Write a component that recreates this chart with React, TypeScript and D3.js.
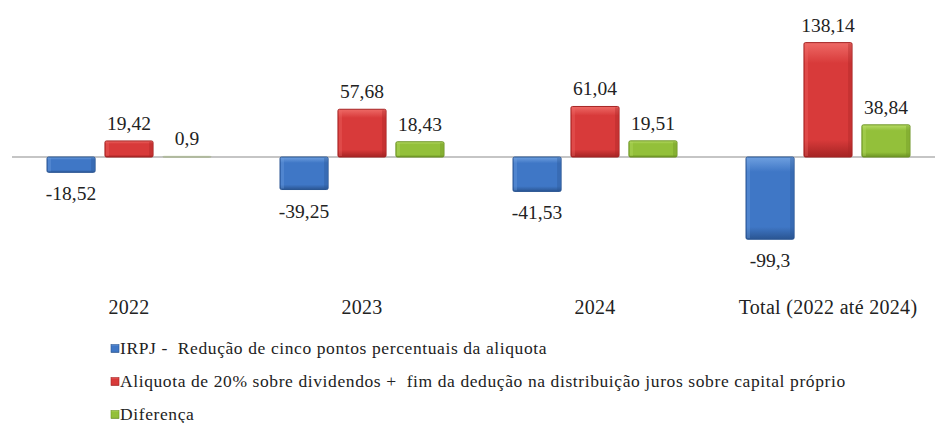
import React, { useEffect, useRef } from "react";
import * as d3 from "d3";

const categories = ["2022", "2023", "2024", "Total (2022 até 2024)"];
const irpj = [-18.52, -39.25, -41.53, -99.3];
const aliquota = [19.42, 57.68, 61.04, 138.14];
const diferenca = [0.9, 18.43, 19.51, 38.84];

const seriesNames = [
  "IRPJ -  Redução de cinco pontos percentuais da aliquota",
  "Aliquota de 20% sobre dividendos +  fim da dedução na distribuição juros sobre capital próprio",
  "Diferença",
];
const colors = [
  { base: "#3f77c6", light: "#6fa0e0", dark: "#2a5592" },
  { base: "#d83a3a", light: "#ee6a66", dark: "#a52424" },
  { base: "#93c03a", light: "#b8dc66", dark: "#6c9324" },
];

const fmt = (v: number) => String(v).replace(".", ",");

export default function App() {
  const ref = useRef<SVGSVGElement>(null);

  useEffect(() => {
    const W = 935,
      H = 423;
    const svg = d3.select(ref.current);
    svg.selectAll("*").remove();
    svg.attr("width", W).attr("height", H);

    const font = "Liberation Serif, DejaVu Serif, serif";

    const defs = svg.append("defs");
    colors.forEach((c, i) => {
      const g = defs
        .append("linearGradient")
        .attr("id", "grad" + i)
        .attr("x1", 0)
        .attr("y1", 0)
        .attr("x2", 0)
        .attr("y2", 1);
      g.append("stop").attr("offset", "0%").attr("stop-color", c.light);
      g.append("stop").attr("offset", "18%").attr("stop-color", c.base);
      g.append("stop").attr("offset", "85%").attr("stop-color", c.base);
      g.append("stop").attr("offset", "100%").attr("stop-color", c.dark);
    });

    const x = d3
      .scaleBand()
      .domain(categories)
      .range([12.5, 944.5])
      .paddingInner(0)
      .paddingOuter(0);

    const x1 = d3
      .scaleBand()
      .domain(["0", "1", "2"])
      .range([x.bandwidth() / 2 - 82, x.bandwidth() / 2 + 82])
      .paddingInner(0.17);

    const y = d3.scaleLinear().domain([-120, 150]).range([256.4, 32.8]);

    const data = categories.map((cat, i) => ({
      cat,
      values: [irpj[i], aliquota[i], diferenca[i]],
    }));

    // zero line
    svg
      .append("line")
      .attr("x1", 12)
      .attr("x2", W)
      .attr("y1", y(0))
      .attr("y2", y(0))
      .attr("stroke", "#8c8c8c")
      .attr("stroke-width", 1.2);

    const groups = svg
      .selectAll("g.cat")
      .data(data)
      .join("g")
      .attr("class", "cat")
      .attr("transform", (d) => `translate(${x(d.cat)},0)`);

    groups.each(function (d) {
      const g = d3.select(this);
      d.values.forEach((v, s) => {
        const bx = x1(String(s))!;
        const bw = x1.bandwidth();
        const top = Math.min(y(v), y(0));
        const h = Math.max(Math.abs(y(v) - y(0)), 1);
        g.append("rect")
          .attr("x", bx)
          .attr("y", top)
          .attr("width", bw)
          .attr("height", h)
          .attr("rx", 1.5)
          .attr("fill", `url(#grad${s})`)
          .attr("stroke", colors[s].dark)
          .attr("stroke-width", 1)
          .attr("opacity", h < 3 ? 0.25 : 1);
        // side bevels
        if (h > 6) {
          g.append("rect")
            .attr("x", bx + 1)
            .attr("y", top + 1)
            .attr("width", 3)
            .attr("height", h - 2)
            .attr("fill", colors[s].light)
            .attr("opacity", 0.35);
          g.append("rect")
            .attr("x", bx + bw - 4)
            .attr("y", top + 1)
            .attr("width", 3)
            .attr("height", h - 2)
            .attr("fill", colors[s].dark)
            .attr("opacity", 0.35);
        }
        g.append("text")
          .attr("x", bx + bw / 2)
          .attr("y", v >= 0 ? y(v) - 11 : y(v) + 28)
          .attr("text-anchor", "middle")
          .style("font-family", font)
          .style("font-size", "19.5px")
          .attr("fill", "#222")
          .text(fmt(v));
      });
      g.append("text")
        .attr("x", x.bandwidth() / 2)
        .attr("y", 314)
        .attr("text-anchor", "middle")
        .style("font-family", font)
        .style("font-size", "20px")
        .style("letter-spacing", "0.3px")
        .attr("fill", "#222")
        .text(d.cat);
    });

    // legend
    const legend = svg
      .selectAll("g.leg")
      .data(seriesNames)
      .join("g")
      .attr("class", "leg")
      .attr("transform", (_, i) => `translate(111,${349.5 + i * 33})`);
    legend
      .append("rect")
      .attr("x", 0)
      .attr("y", -5)
      .attr("width", 8)
      .attr("height", 8)
      .attr("fill", (_, i) => `url(#grad${i})`)
      .attr("stroke", (_, i) => colors[i].dark)
      .attr("stroke-width", 0.6);
    legend
      .append("text")
      .attr("x", 9)
      .attr("y", 4)
      .style("font-family", font)
      .style("font-size", "17.5px")
      .style("letter-spacing", "0.6px")
      .style("white-space", "pre")
      .attr("fill", "#222")
      .text((d) => d);
  }, []);

  return (
    <svg
      ref={ref}
      style={{ position: "absolute", left: 0, top: 0, background: "#fff" }}
    />
  );
}
